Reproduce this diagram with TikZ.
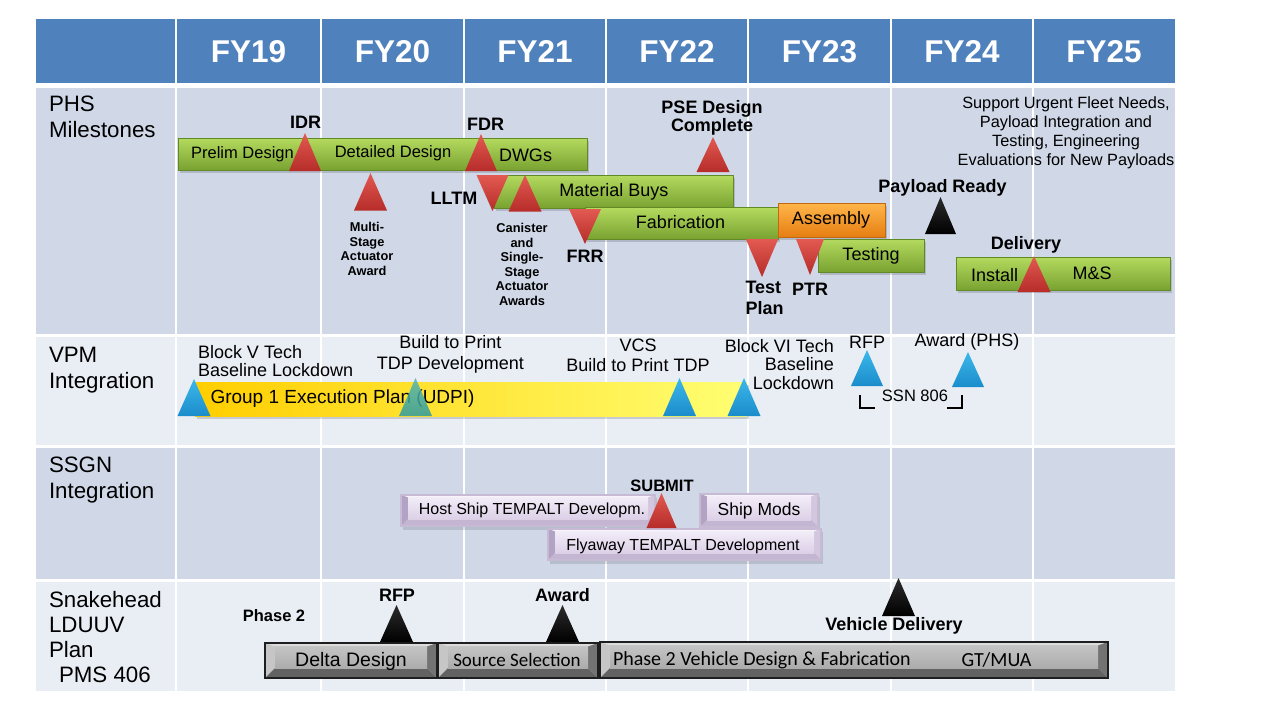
\documentclass[tikz,border=0pt]{standalone}
\usepackage{fontspec}
\setmainfont{Liberation Sans}
\newfontfamily\carlito{Carlito}
\newcommand{\setfs}[2]{\fontsize{#1}{#2}\selectfont}

% palette
\definecolor{hdr}{HTML}{4F81BD}
\definecolor{rowA}{HTML}{D0D8E8}
\definecolor{rowB}{HTML}{E9EDF4}
\definecolor{gTop}{HTML}{B4DA5E}
\definecolor{gBot}{HTML}{79A231}
\definecolor{gRim}{HTML}{5F8A25}
\definecolor{oTop}{HTML}{FFB64A}
\definecolor{oBot}{HTML}{E67E12}
\definecolor{oRim}{HTML}{BF6A10}
\definecolor{rTop}{HTML}{E35A52}
\definecolor{rBot}{HTML}{B52C29}
\definecolor{bTop}{HTML}{3DB8EA}
\definecolor{bBot}{HTML}{1A8CCB}
\definecolor{tTop}{HTML}{55B8B4}
\definecolor{tBot}{HTML}{2E9A9E}
\definecolor{kTop}{HTML}{2C2C2C}
\definecolor{kBot}{HTML}{000000}
% grey bevel set
\definecolor{sFaceT}{HTML}{C4C4C4}
\definecolor{sFaceB}{HTML}{ACACAC}
\definecolor{sHi}{HTML}{DCDCDC}
\definecolor{sLeft}{HTML}{C6C6C6}
\definecolor{sRight}{HTML}{737373}
\definecolor{sLow}{HTML}{626262}
\definecolor{sRim}{HTML}{1E1E1E}
% lavender bevel set
\definecolor{vFaceT}{HTML}{F2ECF7}
\definecolor{vFaceB}{HTML}{DCD0E7}
\definecolor{vHi}{HTML}{F7F3FA}
\definecolor{vLeft}{HTML}{B2A2C4}
\definecolor{vRight}{HTML}{D3C7DF}
\definecolor{vLow}{HTML}{C4B6D2}
\definecolor{vRim}{HTML}{C6BAD4}

% plain glossy bar: x1 y1 x2 y2 colour-set
\newcommand{\solidbar}[5]{%
  \fill[black,opacity=0.15] (#1+2,#2+3) rectangle (#3+2,#4+3);
  \shadedraw[top color=#5Top,bottom color=#5Bot,draw=#5Rim,line width=0.8] (#1,#2) rectangle (#3,#4);}

% bevelled button bar: x1 y1 x2 y2 bevel colour-set
\newcommand{\bevelbox}[6]{%
  \fill[#6Hi] (#1,#2) -- (#3,#2) -- (#3-#5,#2+0.35*#5) -- (#1+#5,#2+0.35*#5) -- cycle;
  \fill[#6Left] (#1,#2) -- (#1+#5,#2+0.35*#5) -- (#1+#5,#4-#5) -- (#1,#4) -- cycle;
  \fill[#6Right] (#3,#2) -- (#3-#5,#2+0.35*#5) -- (#3-#5,#4-#5) -- (#3,#4) -- cycle;
  \fill[#6Low] (#1,#4) -- (#1+#5,#4-#5) -- (#3-#5,#4-#5) -- (#3,#4) -- cycle;
  \shade[top color=#6FaceT,bottom color=#6FaceB] (#1+#5,#2+0.35*#5) rectangle (#3-#5,#4-#5);
  \draw[#6Rim,line width=1.2] (#1,#2) rectangle (#3,#4);}

% milestone triangles
% up: apex x, apex y, base y, half width, colour-set
\newcommand{\tup}[5]{%
  \shade[top color=#5Top,bottom color=#5Bot] (#1,#2) -- (#1+#4,#3) -- (#1-#4,#3) -- cycle;}
% down: apex x, top y, apex y, half width, colour-set
\newcommand{\tdown}[5]{%
  \shade[top color=#5Top,bottom color=#5Bot] (#1-#4,#2) -- (#1+#4,#2) -- (#1,#3) -- cycle;}

\tikzset{
  lbl/.style={inner sep=0pt, outer sep=0pt, text=black},
  fytext/.style={lbl, text=white, font=\setfs{31.5}{31}\bfseries},
  rowname/.style={lbl, anchor=north west, align=left, font=\setfs{22.3}{26}},
  bartext/.style={lbl, font=\setfs{18}{20}},
  bartextsm/.style={lbl, font=\setfs{16.5}{18}},
  boldlab/.style={lbl, font=\setfs{18}{20}\bfseries},
  smallbold/.style={lbl, align=center, font=\setfs{12.8}{14.6}\bfseries},
  note/.style={lbl, align=center, font=\setfs{16.3}{19}},
  vlab/.style={lbl, font=\setfs{18}{19}},
  ssgntext/.style={lbl, font=\setfs{16}{18}},
  calfont/.style={lbl, font=\carlito\setfs{19.5}{21}},
  bracket/.style={draw=black, line width=1.8},
}

\begin{document}
\begin{tikzpicture}[x=1pt,y=-1pt]
\useasboundingbox (0,0) rectangle (1280,720);
\fill[white] (0,0) rectangle (1280,720);

% table background
\fill[hdr]  (36,19)  rectangle (1175,83);
\fill[rowA] (36,88)  rectangle (1175,334);
\fill[rowB] (36,337) rectangle (1175,445);
\fill[rowA] (36,448) rectangle (1175,579);
\fill[rowB] (36,582) rectangle (1175,691);
\foreach \x in {176,321,464,606,748,891,1033}
  \draw[white, line width=2.5] (\x,19) -- (\x,691);

% year headings
\node[fytext] (fy19) at (248.5,52) {FY19};
\node[fytext] (fy20) at (392.5,52) {FY20};
\node[fytext] (fy21) at (535,52)   {FY21};
\node[fytext] (fy22) at (677,52)   {FY22};
\node[fytext] (fy23) at (819.5,52) {FY23};
\node[fytext] (fy24) at (962,52)   {FY24};
\node[fytext] (fy25) at (1104,52)  {FY25};

% row titles
\node[rowname] (rphs)  at (49,96)  {PHS\\Milestones};
\node[rowname] (rvpm)  at (49,347) {VPM\\Integration};
\node[rowname] (rssgn) at (49,457) {SSGN\\Integration};
\node[rowname, font=\setfs{22.3}{25}] (rsnk) at (49,591) {Snakehead\\LDUUV\\Plan\\\hspace*{10pt}PMS 406};

% ---------------- PHS milestones ----------------
\solidbar{178}{138}{587}{170}{g}
\solidbar{494}{175}{733}{208}{g}
\solidbar{585}{207.5}{778}{239}{g}
\solidbar{778}{203}{885}{237}{o}
\solidbar{818}{239}{924}{272}{g}
\solidbar{956}{257}{1170}{290}{g}

\node[bartextsm] (tprelim) at (242.5,154) {Prelim Design};
\node[bartextsm] (tdetail) at (393,153) {Detailed Design};
\node[bartext] (tdwg)  at (525.5,155) {DWGs};
\node[bartext] (tmat)  at (614,192) {Material Buys};
\node[bartext] (tfab)  at (680.5,222) {Fabrication};
\node[bartext] (tasm)  at (831,220) {Assembly};
\node[bartext] (ttest) at (871,256) {Testing};
\node[bartext] (tinst) at (994.5,275) {Install};
\node[bartext] (tms)   at (1092,273) {M\&S};

\tup{305}{133}{171}{16}{r}
\tup{481}{134}{171}{16}{r}
\tup{370.5}{173}{210.5}{16.5}{r}
\tdown{492.5}{175}{211}{16}{r}
\tup{525}{175}{211.5}{16.5}{r}
\tdown{585}{209}{244}{16}{r}
\tup{713}{137}{172}{16.5}{r}
\tdown{762}{239}{277}{16.2}{r}
\tdown{810}{239}{275}{14}{r}
\tup{940.5}{197}{234}{15.5}{k}
\tup{1034}{256}{292}{16.5}{r}

\node[boldlab] (lidr)  at (305.5,122) {IDR};
\node[boldlab] (lfdr)  at (485.5,124) {FDR};
\node[boldlab] (llltm) at (454,198) {LLTM};
\node[boldlab] (lfrr)  at (585,256) {FRR};
\node[boldlab, align=center, font=\setfs{18}{16.5}\bfseries] (lpse) at (712,118) {PSE Design\\Complete};
\node[boldlab, align=left, anchor=west, font=\setfs{18}{21}\bfseries] (ltp) at (745.5,297.5) {Test\\Plan};
\node[boldlab] (lptr)  at (810,289) {PTR};
\node[boldlab] (lpay)  at (942.5,188) {Payload Ready};
\node[boldlab] (ldel)  at (1026,245) {Delivery};
\node[smallbold] (lmsa) at (367,249) {Multi-\\Stage\\Actuator\\Award};
\node[smallbold] (lcan) at (522,264.5) {Canister\\and\\Single-\\Stage\\Actuator\\Awards};
\node[note] (lsup) at (1066,132.5) {Support Urgent Fleet Needs,\\Payload Integration and\\Testing, Engineering\\Evaluations for New Payloads};

% ---------------- VPM integration ----------------
\fill[black,opacity=0.15] (197,385) rectangle (749,419);
\shade[left color=orange!30!yellow!95!red, middle color=yellow!85!orange, right color=yellow!55] (195,382) rectangle (747,416);
\node[lbl, anchor=west, font=\setfs{19}{20}] (tgrp) at (210.5,399) {Group 1 Execution Plan (UDPI)};

\tup{194}{379}{416}{16.5}{b}
\begin{scope}[opacity=0.85]
\tup{415.5}{378}{416}{16.5}{t}
\end{scope}
\tup{679.5}{378}{416}{16.5}{b}
\tup{744}{378}{416}{16.5}{b}
\tup{867}{350}{386}{16}{b}
\tup{968}{352}{387}{16}{b}

\node[vlab, align=left, anchor=west, font=\setfs{18}{18.3}] (lbv) at (198,361) {Block V Tech\\Baseline Lockdown};
\node[vlab, align=center, font=\setfs{18}{21}] (lbtp) at (450.5,354.5) {Build to Print\\TDP Development};
\node[vlab, align=center, font=\setfs{18}{20}] (lvcs) at (638,355) {VCS\\Build to Print TDP};
\node[vlab, align=right, anchor=east, font=\setfs{18}{18.5}] (lb6) at (834,364.5) {Block VI Tech\\Baseline\\Lockdown};
\node[vlab] (lrfp) at (867,342) {RFP};
\node[vlab] (lawd) at (967,342) {Award (PHS)};
\node[vlab, font=\setfs{16.5}{18}] (lssn) at (915,396) {SSN 806};
\coordinate (brl) at (860,395);
\coordinate (brr) at (962,395);
\draw[bracket] (brl) -- ++(0,13) -- ++(15,0);
\draw[bracket] (brr) -- ++(0,13) -- ++(-15,0);

% ---------------- SSGN integration ----------------
\fill[black,opacity=0.12] (403,498) rectangle (657,530);
\fill[black,opacity=0.12] (702,497) rectangle (820,530);
\fill[black,opacity=0.12] (550,532) rectangle (823,564);
\bevelbox{401}{495}{655}{526}{7}{v}
\bevelbox{700}{494}{818}{527}{7}{v}
\bevelbox{548}{529}{821}{560}{7}{v}
\node[ssgntext] (thost) at (532,510) {Host Ship TEMPALT Developm.};
\node[ssgntext, font=\setfs{17.5}{19}] (tmods) at (759,511) {Ship Mods};
\node[ssgntext] (tfly) at (683,546) {Flyaway TEMPALT Development};
\tup{661.5}{493}{528}{15}{r}
\node[boldlab, font=\setfs{16.5}{18}\bfseries] (lsub) at (662,486) {SUBMIT};

% ---------------- Snakehead LDUUV plan ----------------
\bevelbox{265}{643}{437}{678}{10}{s}
\bevelbox{438}{643}{598}{678}{10}{s}
\bevelbox{600}{642}{1108}{678}{10}{s}
\node[lbl, font=\setfs{19.5}{21}] (tdelta) at (351,661) {Delta Design};
\node[calfont, font=\carlito\setfs{19}{21}] (tsrc) at (517,660) {Source Selection};
\node[calfont, anchor=west, font=\carlito\setfs{20}{21}] (tph2) at (613,660) {Phase 2 Vehicle Design \& Fabrication};
\node[calfont, font=\carlito\setfs{20}{21}] (tgt) at (996.5,660) {GT/MUA};

\tup{396.5}{605}{642}{16.5}{k}
\tup{562.5}{605}{642}{16.5}{k}
\tup{898.5}{578}{616}{16.5}{k}

\node[boldlab, font=\setfs{16.5}{18}\bfseries] (lphase) at (274,616) {Phase 2};
\node[boldlab] (lrfp2) at (397,595) {RFP};
\node[boldlab] (lawd2) at (562.5,595) {Award};
\node[boldlab] (lvd)   at (894,626) {Vehicle Delivery};
\end{tikzpicture}
\end{document}
